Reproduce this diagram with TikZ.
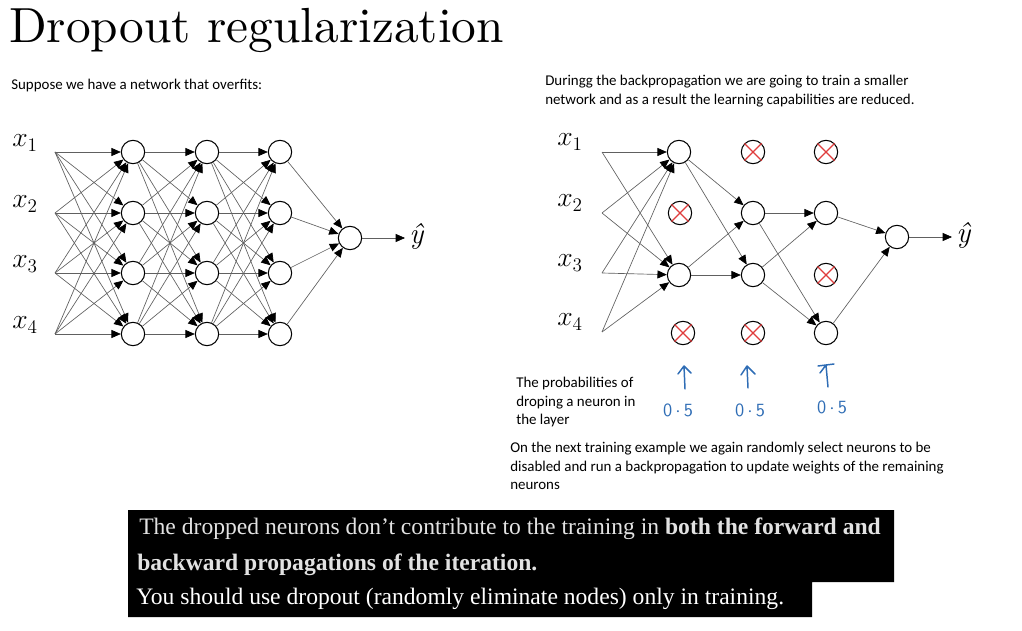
\documentclass[tikz,border=0pt]{standalone}
\usepackage{fontspec}
\newfontfamily\carlitofont{Carlito}
\newfontfamily\bodyserif{Liberation Serif}
\newfontfamily\titlefont{lmroman10-regular.otf}
\usetikzlibrary{arrows.meta}
\definecolor{edgegray}{HTML}{606060}
\definecolor{xred}{HTML}{E03C3C}
\definecolor{inkblue}{HTML}{2F6DB5}
\definecolor{boxtext}{HTML}{E2E2E2}
\begin{document}
\begin{tikzpicture}[x=0.75pt,y=-0.75pt,
  neuron/.style={circle,draw=black,line width=0.8pt,minimum size=17.5pt,inner sep=0pt,fill=white},
  dropped/.style={neuron},
  edge/.style={draw=edgegray,line width=0.5pt,-{Triangle[length=7pt,width=6pt,color=black]}},
  lbl/.style={font=\fontsize{22}{22}\selectfont,inner sep=0pt},
  outlbl/.style={font=\fontsize{22}{22}\selectfont\itshape,inner sep=3pt,anchor=west},
  note/.style={font=\carlitofont\fontsize{11.2}{14}\selectfont,align=left,inner sep=0pt,anchor=north west},
  ink/.style={draw=inkblue,line width=1.1pt,line cap=round,line join=round},
  inktext/.style={text=inkblue,font=\fontsize{14}{14}\selectfont\sffamily,inner sep=0pt},
  xmark/.style={draw=xred,line width=0.9pt},
  boxline/.style={anchor=base west,inner sep=0pt,font=\bodyserif\fontsize{17.7}{17.7}\selectfont}
]
\useasboundingbox (0,0) rectangle (1022,631);
% Title
\node[anchor=base west,inner sep=0pt,font=\titlefont\fontsize{37}{40}\selectfont] (title) at (9,43) {Dropout regularization};
\node[note] (n1) at (11,79) {Suppose we have a network that overfits:};
\node[note] (n2) at (545,75) {Duringg the backpropagation we are going to train a smaller\\network and as a result the learning capabilities are reduced.};
% ---------- Left network
\foreach \i/\y in {1/152,2/213,3/273,4/334}{
  \node[lbl] (lx\i) at (25,\y-9) {$x_\i$};
  \coordinate (li\i) at (55,\y);
  \node[neuron] (la\i) at (133,\y) {};
  \node[neuron] (lb\i) at (207,\y) {};
  \node[neuron] (lc\i) at (280,\y) {};
}
\node[neuron] (lo) at (350,238) {};
\node[outlbl] (ly) at (405,236) {ŷ};
\foreach \i in {1,...,4}{
  \foreach \j in {1,...,4}{
    \draw[edge] (li\i) -- (la\j);
    \draw[edge] (la\i) -- (lb\j);
    \draw[edge] (lb\i) -- (lc\j);
  }
  \draw[edge] (lc\i) -- (lo);
}
\draw[edge] (lo) -- (lo -| ly.west);
% ---------- Right network
\foreach \i/\y in {1/152,2/213,3/273,4/332}{
  \node[lbl] (rx\i) at (570,\y-10) {$x_\i$};
  \coordinate (ri\i) at (602,\y);
}
\node[neuron] (ra1) at (679,152) {};
\node[dropped] (ra2) at (680,213) {};
\node[neuron] (ra3) at (679,275) {};
\node[dropped] (ra4) at (683,333) {};
\node[dropped] (rb1) at (753,152) {};
\node[neuron] (rb2) at (753,213) {};
\node[neuron] (rb3) at (753,275) {};
\node[dropped] (rb4) at (753,333) {};
\node[dropped] (rc1) at (826,152) {};
\node[neuron] (rc2) at (826,213) {};
\node[dropped] (rc3) at (826,275) {};
\node[neuron] (rc4) at (826,333) {};
\node[neuron] (ro) at (897,237) {};
\node[outlbl] (ry) at (952,235) {ŷ};
\foreach \n in {ra2,ra4,rb1,rb4,rc1,rc3}{
  \draw[xmark] (\n.45) -- (\n.225) (\n.135) -- (\n.315);
}
\foreach \i in {1,...,4}{
  \draw[edge] (ri\i) -- (ra1);
  \draw[edge] (ri\i) -- (ra3);
}
\foreach \s in {ra1,ra3}{
  \draw[edge] (\s) -- (rb2);
  \draw[edge] (\s) -- (rb3);
}
\foreach \s in {rb2,rb3}{
  \draw[edge] (\s) -- (rc2);
  \draw[edge] (\s) -- (rc4);
}
\draw[edge] (rc2) -- (ro);
\draw[edge] (rc4) -- (ro);
\draw[edge] (ro) -- (ro -| ry.west);
% ---------- handwritten annotations
\coordinate (p1a) at (685,389); \coordinate (p1b) at (684,366);
\coordinate (p2a) at (748,388); \coordinate (p2b) at (747,366);
\coordinate (p3a) at (828,387); \coordinate (p3b) at (826,365);
\draw[ink] (p1a) -- (p1b) (678,374) -- (p1b) -- (691,373);
\draw[ink] (p2a) -- (p2b) (741,375) -- (p2b) -- (755,374);
\draw[ink] (p3a) -- (p3b) (818,366) -- (834,364) (p3b) -- (820,373);
\node[inktext] (q1) at (678,410) {0\,$\cdot$\,5};
\node[inktext] (q2) at (750,410) {0\,$\cdot$\,5};
\node[inktext] (q3) at (832,407) {0\,$\cdot$\,5};
\node[note] (n3) at (516,377) {The probabilities of\\droping a neuron in\\the layer};
\node[note] (n4) at (510,442) {On the next training example we again randomly select neurons to be\\disabled and run a backpropagation to update weights of the remaining\\neurons};
% ---------- bottom black box
\fill[black] (128,510) -- (894,510) -- (894,582) -- (812,582) -- (812,617) -- (128,617) -- cycle;
\node[boxline,text=boxtext] (b1) at (139,534) {The dropped neurons don’t contribute to the training in \textbf{both the forward and}};
\node[boxline,text=boxtext] (b2) at (137,570) {\textbf{backward propagations of the iteration.}};
\node[boxline,text=white] (b3) at (136,604) {You should use dropout (randomly eliminate nodes) only in training.};
\end{tikzpicture}
\end{document}
